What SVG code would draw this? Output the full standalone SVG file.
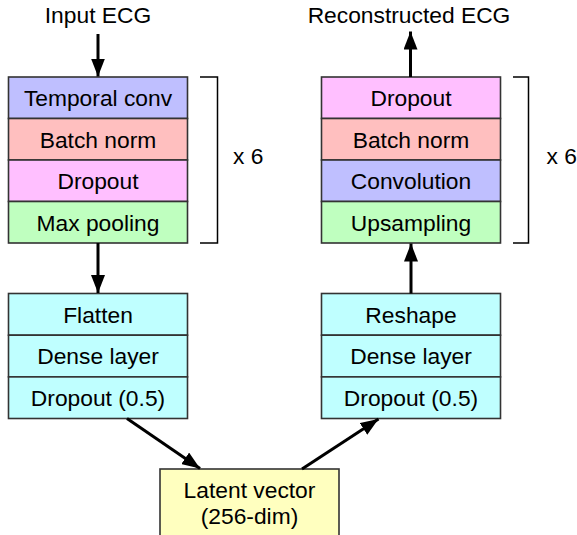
<svg xmlns="http://www.w3.org/2000/svg" width="577" height="535" viewBox="0 0 577 535">
<style>
  text { font-family: "Liberation Sans", Helvetica, Arial, sans-serif; font-size: 22.8px; fill: #000; text-anchor: middle; }
  .row { stroke: #333; stroke-width: 1.6; }
  .blue { fill: #bfbfff; }
  .red { fill: #ffbfbf; }
  .pink { fill: #ffbfff; }
  .green { fill: #bfffbf; }
  .cyan { fill: #bfffff; }
  .yellow { fill: #ffffbf; }
  .conn { stroke: #000; stroke-width: 3; fill: none; marker-end: url(#ah); }
  .bracket { stroke: #000; stroke-width: 1.5; fill: none; }
  .rep { text-anchor: start; }
</style>
<defs>
  <marker id="ah" viewBox="0 0 18 14" refX="18" refY="7" markerWidth="18" markerHeight="14" markerUnits="userSpaceOnUse" orient="auto">
    <path d="M0,0 L18,7 L0,14 Z" fill="#000"/>
  </marker>
</defs>

<g id="input-label"><text x="98" y="23">Input ECG</text></g>
<g id="output-label"><text x="409" y="23">Reconstructed ECG</text></g>

<g id="encoder-conv-block">
  <g id="enc-temporal-conv"><rect class="row blue" x="8.5" y="77" width="179" height="41.5"/><text x="98" y="106">Temporal conv</text></g>
  <g id="enc-batch-norm"><rect class="row red" x="8.5" y="118.5" width="179" height="41.5"/><text x="98" y="147.5">Batch norm</text></g>
  <g id="enc-dropout"><rect class="row pink" x="8.5" y="160" width="179" height="41.5"/><text x="98" y="189">Dropout</text></g>
  <g id="enc-max-pooling"><rect class="row green" x="8.5" y="201.5" width="179" height="41.5"/><text x="98" y="230.5">Max pooling</text></g>
</g>
<g id="encoder-repeat">
  <path class="bracket" d="M200,77 H217.5 V243 H200"/>
  <text class="rep" x="233" y="164">x 6</text>
</g>

<g id="decoder-conv-block">
  <g id="dec-dropout"><rect class="row pink" x="321.5" y="77" width="179" height="41.5"/><text x="411" y="106">Dropout</text></g>
  <g id="dec-batch-norm"><rect class="row red" x="321.5" y="118.5" width="179" height="41.5"/><text x="411" y="147.5">Batch norm</text></g>
  <g id="dec-convolution"><rect class="row blue" x="321.5" y="160" width="179" height="41.5"/><text x="411" y="189">Convolution</text></g>
  <g id="dec-upsampling"><rect class="row green" x="321.5" y="201.5" width="179" height="41.5"/><text x="411" y="230.5">Upsampling</text></g>
</g>
<g id="decoder-repeat">
  <path class="bracket" d="M513,77 H528.5 V243 H513"/>
  <text class="rep" x="546.5" y="164">x 6</text>
</g>

<g id="encoder-dense-block">
  <g id="enc-flatten"><rect class="row cyan" x="8.5" y="293.5" width="179" height="41.7"/><text x="98" y="322.5">Flatten</text></g>
  <g id="enc-dense"><rect class="row cyan" x="8.5" y="335.2" width="179" height="41.7"/><text x="98" y="364.2">Dense layer</text></g>
  <g id="enc-dropout-05"><rect class="row cyan" x="8.5" y="376.9" width="179" height="41.6"/><text x="98" y="405.9">Dropout (0.5)</text></g>
</g>

<g id="decoder-dense-block">
  <g id="dec-reshape"><rect class="row cyan" x="321.5" y="293.5" width="179" height="41.7"/><text x="411" y="322.5">Reshape</text></g>
  <g id="dec-dense"><rect class="row cyan" x="321.5" y="335.2" width="179" height="41.7"/><text x="411" y="364.2">Dense layer</text></g>
  <g id="dec-dropout-05"><rect class="row cyan" x="321.5" y="376.9" width="179" height="41.6"/><text x="411" y="405.9">Dropout (0.5)</text></g>
</g>

<g id="latent-vector">
  <rect class="row yellow" x="160" y="469" width="179" height="80"/>
  <text x="249.5" y="498">Latent vector</text>
  <text x="249.5" y="523.5">(256-dim)</text>
</g>

<g id="connectors">
  <line class="conn" x1="98" y1="34" x2="98" y2="76.5"/>
  <line class="conn" x1="98" y1="243" x2="98" y2="293"/>
  <line class="conn" x1="127" y1="418.5" x2="200" y2="468.5"/>
  <line class="conn" x1="302" y1="469" x2="378.5" y2="419"/>
  <line class="conn" x1="411" y1="293.5" x2="411" y2="243.5"/>
  <line class="conn" x1="410.5" y1="77" x2="410.5" y2="31.5"/>
</g>
</svg>
